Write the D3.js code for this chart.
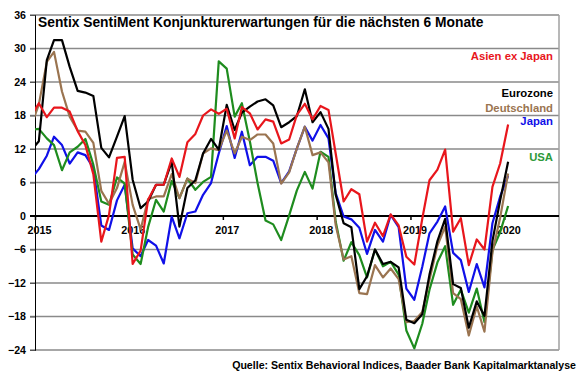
<!DOCTYPE html>
<html>
<head>
<meta charset="utf-8">
<script src="https://cdn.jsdelivr.net/npm/d3@7"></script>
<style>
  body { margin: 0; background: #fff; }
  text { font-family: Arial, "Liberation Sans", sans-serif; font-weight: bold; }
</style>
</head>
<body>
<svg id="canvas" width="580" height="375"></svg>
<script>
// monthly values Dec 2014 .. Jan 2020 (first point sits left of the axis and gets clipped)
let eurozone = [11.7, 13.4, 27.9, 31.5, 31.5, 26.7, 22.4, 22.1, 21.5, 12.2, 10.5, 14.2, 17.9,
  6.5, 1.4, 2.6, 5.6, 5.6, 9.7, -1.9, 5.0, 6.4, 11.2, 13.8, 11.9,
  19.9, 15.4, 18.5, 19.6, 20.5, 20.9, 19.8, 15.9, 16.8, 17.9, 22.7, 16.8,
  18.6, 15.6, 3.8, -1.3, -2.0, -13.1, -10.8, -6.0, -8.6, -8.2, -9.2, -18.6,
  -19.2, -17.6, -10.5, -4.5, -0.5, -12.2, -12.9, -20.0, -15.3, -17.9, -4.5, 2.8,
  9.7]
let deutschland = [16.0, 20.0, 27.6, 29.4, 22.3, 17.8, 15.3, 15.1, 13.1, 4.5, 2.2, 5.0, 9.7,
  2.0, -2.4, 3.0, 3.5, 3.5, 7.5, 3.2, 6.7, 5.9, 11.2, 12.1, 11.8,
  15.3, 11.2, 14.2, 13.6, 14.6, 14.6, 13.0, 5.8, 7.8, 12.1, 16.0, 10.9,
  11.4, 9.6, -1.6, -7.8, -7.2, -13.8, -14.0, -8.8, -11.0, -9.4, -11.3, -19.0,
  -18.8, -17.2, -11.4, -5.3, -1.9, -13.8, -14.9, -21.4, -16.2, -20.7, -6.5, -0.3,
  7.6]
let asienExJapan = [17.8, 20.2, 17.7, 19.4, 19.4, 18.7, 15.2, 12.7, 7.5, -4.6, 0.2, 10.4, 10.6,
  -8.6, -6.2, 2.9, 5.6, 5.6, 10.3, 7.0, 13.2, 14.7, 18.0, 19.1, 18.3,
  19.2, 13.9, 19.5, 18.4, 15.5, 17.3, 16.9, 13.0, 13.7, 18.1, 20.1, 17.3,
  19.7, 19.0, 11.2, 2.6, 4.8, 3.9, -4.6, -1.2, -3.6, 0.3, -1.7, -7.3,
  -8.7, -0.5, 6.4, 8.3, 11.9, -2.8, -0.4, -8.8, -4.2, -6.0, 5.2, 9.4,
  16.4]
let japan = [6.7, 8.4, 10.8, 14.2, 12.7, 9.4, 11.4, 10.9, 8.6, -1.7, -2.5, 2.8, 5.6,
  -5.8, -7.2, -4.3, -5.3, -8.5, -0.1, -4.0, 0.5, 0.8, 3.8, 5.9, 11.2,
  16.1, 10.4, 15.1, 9.1, 10.6, 10.6, 9.9, 5.9, 8.0, 12.1, 16.0, 13.5,
  16.3, 13.9, 4.1, -0.1, -0.6, -2.1, -6.8, -2.5, -4.6, 0.2, -2.0, -13.0,
  -15.0, -9.1, -3.1, -1.0, 1.7, -6.6, -7.9, -13.6, -8.6, -12.8, -1.3, 3.5,
  7.2]
let usa = [15.4, 15.6, 13.9, 12.7, 8.2, 11.4, 12.4, 13.8, 9.2, 2.6, 2.0, 6.9, 5.8,
  -6.9, -8.6, -2.0, 2.9, 0.8, 6.3, 3.2, 6.7, 4.7, 6.1, 7.0, 27.7,
  26.4, 17.8, 20.2, 13.4, 5.9, -0.8, -1.5, -4.3, 0.1, 4.6, 7.9, 4.9,
  11.5, 10.6, -1.0, -8.0, -4.7, -7.0, -11.0, -6.0, -9.0, -8.2, -10.5, -20.5,
  -23.7, -19.3, -13.2, -8.3, -5.4, -15.9, -13.2, -17.3, -13.0, -19.0, -6.1, -2.9,
  1.8]

let yTicks = [-24, -18, -12, -6, 0, 6, 12, 18, 24, 30, 36]
let years = [2015, 2016, 2017, 2018, 2019, 2020]
let months = d3.timeMonth.range(new Date(2014, 11, 1), new Date(2020, 1, 1))

let title = 'Sentix SentiMent Konjunkturerwartungen für die nächsten 6 Monate'
let source = 'Quelle: Sentix Behavioral Indices, Baader Bank Kapitalmarktanalyse'

// drawing order: last one ends up on top
let series = [
  {name: 'Japan', values: japan, color: '#1010e8', labelY: 125},
  {name: 'USA', values: usa, color: '#1e8c1e', labelY: 161},
  {name: 'Deutschland', values: deutschland, color: '#9a7450', labelY: 111.5},
  {name: 'Eurozone', values: eurozone, color: '#000000', labelY: 97},
  {name: 'Asien ex Japan', values: asienExJapan, color: '#e8161c', labelY: 60}
]

let plotLeft = 35
let plotRight = 559
let plotTop = 15
let plotBottom = 350

let canvas = d3.select('#canvas')

let x = d3.scaleTime()
          .domain([new Date(2015, 0, 1), new Date(2020, 7, 1)])
          .range([plotLeft, plotRight])
let y = d3.scaleLinear()
          .domain([-24, 36])
          .range([plotBottom, plotTop])

// point sits in the middle of its month
let midMonth = d => new Date(d.getFullYear(), d.getMonth(), 16)

canvas.append('defs')
      .append('clipPath')
      .attr('id', 'plot')
      .append('rect')
      .attr('x', plotLeft)
      .attr('y', plotTop)
      .attr('width', plotRight - plotLeft)
      .attr('height', plotBottom - plotTop)

// gridlines
canvas.append('g')
      .selectAll('line')
      .data(yTicks.filter(t => t !== 0))
      .enter()
      .append('line')
      .attr('x1', plotLeft - 5)
      .attr('x2', plotRight)
      .attr('y1', t => y(t))
      .attr('y2', t => y(t))
      .attr('stroke', '#8a8a8a')
      .attr('stroke-width', 1.5)

// right border
canvas.append('line')
      .attr('x1', plotRight).attr('x2', plotRight)
      .attr('y1', plotTop).attr('y2', plotBottom)
      .attr('stroke', '#a0a0a0')
      .attr('stroke-width', 1.5)

// y axis
let yAxis = canvas.append('g')
      .attr('transform', 'translate(' + plotLeft + ',0)')
      .call(d3.axisLeft(y).tickValues(yTicks).tickSize(5).tickPadding(4).tickFormat(d3.format('d')))
yAxis.select('.domain').attr('stroke', '#000')
yAxis.selectAll('.tick line').attr('stroke', '#555')
yAxis.selectAll('text')
     .attr('font-size', 10.6)
     .attr('fill', '#000')
     .attr('font-family', 'Arial, "Liberation Sans", sans-serif')
     .attr('font-weight', 'bold')

// zero line with year ticks
canvas.append('line')
      .attr('x1', plotLeft - 5)
      .attr('x2', plotRight)
      .attr('y1', y(0))
      .attr('y2', y(0))
      .attr('stroke', '#000')
      .attr('stroke-width', 2)

let xAxis = canvas.append('g')
      .attr('transform', 'translate(0,' + y(0) + ')')
      .call(d3.axisBottom(x)
              .tickValues(years.map(yr => new Date(yr, 0, 1)))
              .tickSize(4)
              .tickPadding(6)
              .tickFormat(d3.timeFormat('%Y')))
xAxis.select('.domain').remove()
xAxis.selectAll('.tick line').attr('stroke', '#000').attr('stroke-width', 1.5)
xAxis.selectAll('text')
     .attr('dx', 4)
     .attr('font-size', 10.8)
     .attr('fill', '#000')
     .attr('font-family', 'Arial, "Liberation Sans", sans-serif')
     .attr('font-weight', 'bold')

// series lines
let line = d3.line()
             .x((v, i) => x(midMonth(months[i])))
             .y(v => y(v))

canvas.append('g')
      .attr('clip-path', 'url(#plot)')
      .selectAll('path')
      .data(series)
      .enter()
      .append('path')
      .attr('d', s => line(s.values))
      .attr('fill', 'none')
      .attr('stroke', s => s.color)
      .attr('stroke-width', 2.2)
      .attr('stroke-linejoin', 'round')

// labels at the right instead of a legend box
canvas.append('g')
      .selectAll('text')
      .data(series)
      .enter()
      .append('text')
      .attr('x', 553)
      .attr('y', s => s.labelY)
      .attr('text-anchor', 'end')
      .attr('font-size', 11.3)
      .attr('fill', s => s.name === 'USA' ? '#2e9a3a' : s.color)
      .text(s => s.name)

canvas.append('text')
      .attr('x', 38)
      .attr('y', 27)
      .attr('font-size', 13.8)
      .attr('fill', '#000')
      .text(title)

canvas.append('text')
      .attr('x', 576)
      .attr('y', 369)
      .attr('text-anchor', 'end')
      .attr('font-size', 10.6)
      .attr('fill', '#000')
      .text(source)
</script>
</body>
</html>
